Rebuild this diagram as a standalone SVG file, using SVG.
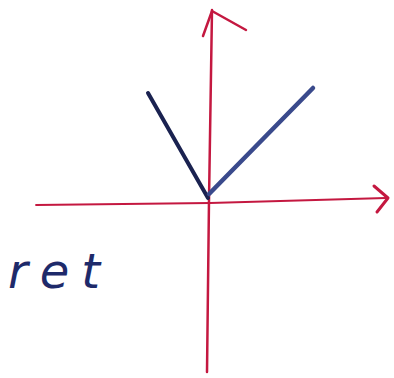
<svg xmlns="http://www.w3.org/2000/svg" width="394" height="378" viewBox="0 0 394 378">
<style>
.axis{stroke:#c41840;fill:none;stroke-linecap:round;stroke-linejoin:round}
.v{fill:none;stroke-linecap:round}
.lbl{font-family:"DejaVu Sans",sans-serif;font-style:italic;font-size:48px;fill:#1e2a6a;letter-spacing:12px}
</style>
<rect width="394" height="378" fill="#ffffff"/>
<g id="connectors">
<path class="axis" stroke-width="2.5" d="M207 372 L209 200 L212 10"/>
<path class="axis" stroke-width="2.5" d="M203 36 L212 11 L246 30"/>
<path class="axis" stroke-width="1.8" stroke="#d8406a" d="M36 205 L210 203 L386 198"/>
<path class="axis" stroke-width="3" d="M374 186 L388 198 L377 212"/>
</g>
<g id="curve">
<path class="v" stroke="#1a2250" stroke-width="4" d="M148 93 L208 198"/>
<path class="v" stroke="#3a4a8c" stroke-width="4.5" d="M209 194 L313 88"/>
</g>
<g id="label">
<text class="lbl" x="8" y="288">ret</text>
</g>
</svg>
